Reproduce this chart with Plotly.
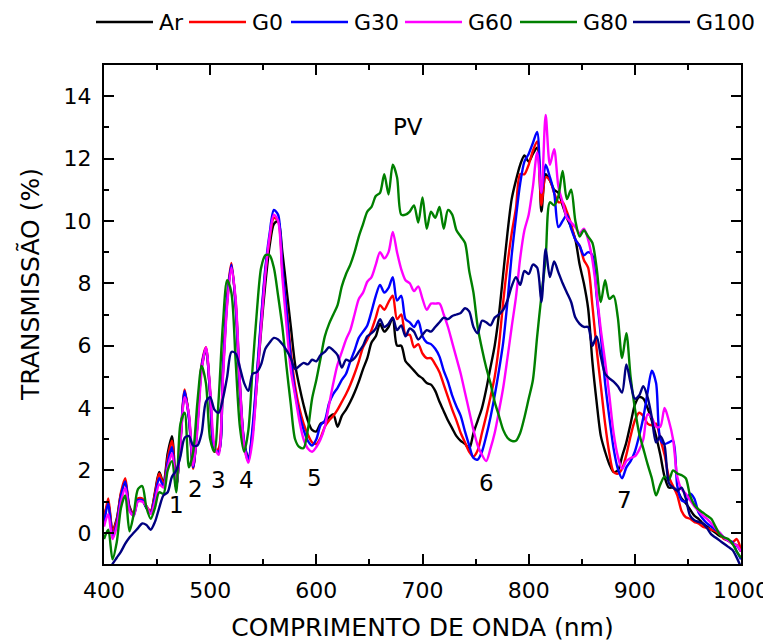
import plotly.graph_objects as go

# wavelength grid (nm) shared by all spectra
wavelength = list(range(400, 1001, 4))

ar = [
    0.5, 0.95, 0.1, 0.45, 1.25, 1.6, 0.85, 0.6, 1.05, 1.05,      # 400-436
    0.8, 0.7, 1.3, 1.95, 1.6, 2.55, 3.1, 1.5, 2.9, 4.5,          # 440-476
    3.75, 2.1, 3.5, 5.3, 5.85, 4.5, 2.7, 2.6, 5.1, 7.4,          # 480-516
    8.5, 7.4, 4.8, 2.9, 2.4, 3.2, 4.8, 6.5, 8.0, 9.2,            # 520-556
    9.9, 10.0, 9.0, 7.8, 6.6, 5.4, 4.7, 4.1, 3.6, 3.3,           # 560-596
    3.25, 3.5, 3.55, 3.7, 3.8, 3.4, 3.75, 3.95, 4.2, 4.5,        # 600-636
    4.85, 5.25, 5.6, 6.1, 6.3, 6.7, 6.45, 6.6, 6.9, 6.0,         # 640-676
    6.0, 5.5, 5.35, 5.2, 5.05, 4.95, 4.8, 4.75, 4.55, 4.2,       # 680-716
    3.9, 3.6, 3.35, 3.1, 2.95, 2.85, 2.7, 3.2, 3.6, 4.0,         # 720-756
    4.6, 5.3, 6.0, 7.0, 8.3, 9.6, 10.7, 11.3, 11.8, 12.1,        # 760-796
    11.9, 12.15, 12.35, 10.3, 11.5, 11.3, 11.0, 10.9, 10.5, 10.1,  # 800-836
    9.8, 9.4, 8.6, 8.0, 7.2, 5.5, 4.2, 3.1, 2.6, 2.2,            # 840-876
    1.95, 2.0, 2.45, 2.9, 3.5, 4.1, 4.35, 4.3, 4.0, 3.6,         # 880-916
    3.1, 2.5, 1.8, 1.45, 1.45, 1.35, 1.1, 0.95, 0.75, 0.55,      # 920-956
    0.45, 0.3, 0.2, 0.1, 0.0, -0.1, -0.15, -0.25, -0.35, -0.4,   # 960-996
    -0.6,                                                        # 1000
]

g0 = [
    0.4, 1.1, 0.05, 0.4, 1.3, 1.75, 0.8, 0.6, 1.1, 1.1,
    0.85, 0.7, 1.25, 1.9, 1.55, 2.4, 2.95, 1.45, 3.0, 4.6,
    3.7, 2.05, 3.6, 5.4, 5.95, 4.4, 2.6, 2.7, 5.3, 7.6,
    8.65, 7.3, 4.5, 2.8, 2.3, 3.3, 5.0, 6.8, 8.4, 9.4,
    10.1, 10.0, 8.4, 7.2, 5.8, 4.7, 4.0, 3.5, 3.15, 2.9,
    2.85, 3.05, 3.4, 3.6, 3.75, 3.95, 4.2, 4.45, 4.75, 5.1,
    5.5, 5.95, 6.2, 6.5, 6.9, 7.3, 7.15, 7.4, 7.6, 6.85,
    7.0, 6.35, 6.35, 5.95, 6.05, 5.75, 5.6, 5.6, 5.4, 5.15,
    4.75, 4.35, 3.95, 3.6, 3.2, 2.9, 2.6, 2.45, 2.65, 3.2,
    3.75, 4.35, 5.0, 6.0, 7.4, 8.6, 9.6, 10.4, 11.5, 11.5,
    11.8, 12.25, 12.55, 10.5, 11.4, 11.3, 10.9, 10.6, 10.6, 10.3,
    9.9, 9.4, 9.2, 8.75, 8.5, 7.3, 5.9, 4.7, 3.5, 2.55,
    1.95, 1.9, 2.05, 2.5, 3.1, 3.6, 3.85, 3.75, 3.5, 3.45,
    3.5, 3.0, 2.5, 1.8, 1.5, 1.2, 0.7, 0.5, 0.45, 0.35,
    0.3, 0.2, 0.15, 0.1, 0.05, -0.05, -0.2, -0.25, -0.3, -0.2,
    -0.55,
]

g30 = [
    0.3, 0.95, -0.1, 0.3, 1.2, 1.65, 0.75, 0.55, 1.05, 1.05,
    0.8, 0.65, 1.15, 1.75, 1.5, 2.25, 2.75, 1.45, 3.0, 4.55,
    3.65, 2.1, 3.5, 5.35, 5.9, 4.4, 2.7, 2.6, 5.2, 7.5,
    8.6, 7.3, 4.6, 2.9, 2.35, 3.4, 5.1, 6.9, 8.5, 9.6,
    10.35, 10.2, 8.5, 7.1, 5.6, 4.5, 3.8, 3.3, 2.95, 2.8,
    3.0, 3.45, 3.6, 4.15, 4.45, 4.65, 4.9, 5.1, 5.5, 5.85,
    6.25, 6.45, 6.65, 7.1, 7.6, 7.95, 7.7, 7.85, 8.2, 7.45,
    7.6, 6.85, 6.75, 6.6, 6.8, 6.3, 6.1, 6.05, 5.9, 5.65,
    5.2, 4.85, 4.4, 4.05, 3.75, 3.25, 2.8, 2.4, 2.35, 2.6,
    3.1, 3.7, 4.4, 5.2, 6.1, 7.4, 8.9, 10.1, 11.2, 11.9,
    12.15, 12.5, 12.85, 10.9, 11.8, 11.4, 10.9, 9.8, 10.0, 10.2,
    9.75, 9.4, 9.2, 8.9, 9.0, 8.9, 7.6, 6.3, 4.8, 3.7,
    2.7, 2.05, 1.75, 2.1, 2.3, 2.6, 3.1, 3.7, 4.5, 5.2,
    4.8, 3.0, 2.85, 2.9, 2.95, 1.5, 1.05, 1.0, 1.25, 1.1,
    0.65, 0.45, 0.3, 0.2, 0.1, 0.0, -0.15, -0.25, -0.3, -0.6,
    -0.85,
]

g60 = [
    0.2, 0.6, -0.2, 0.2, 1.0, 1.45, 0.7, 0.55, 1.0, 1.0,
    0.85, 0.6, 1.0, 1.55, 1.45, 2.1, 2.55, 1.55, 2.9, 4.35,
    3.8, 2.15, 3.3, 5.2, 5.95, 4.6, 2.8, 2.5, 4.9, 7.3,
    8.5, 7.5, 4.8, 2.8, 2.25, 3.0, 4.8, 6.6, 8.3, 9.5,
    10.2, 10.0, 8.2, 6.6, 5.2, 4.4, 3.6, 3.0, 2.7, 2.6,
    2.75, 3.0, 3.4, 4.1, 4.8, 5.4, 5.8, 6.2, 6.5, 7.0,
    7.5, 7.7, 8.05, 8.2, 8.6, 9.0, 8.8, 9.0, 9.65, 9.0,
    8.45, 8.1, 8.0, 7.75, 7.9, 7.5, 7.15, 7.35, 7.35, 7.35,
    7.0, 6.6, 6.1, 5.6, 5.1, 4.5, 3.9, 3.3, 2.8, 2.5,
    2.3, 2.7, 3.2, 3.9, 4.65, 5.6, 6.6, 7.55, 8.8, 9.7,
    10.2, 11.1, 12.2, 10.9, 13.4, 11.8, 12.3, 11.1, 10.6, 10.1,
    9.95, 9.8, 9.6, 9.75, 9.4, 8.75, 7.7, 6.5, 5.5, 4.4,
    3.2, 2.45, 2.05, 2.3, 2.4, 2.45, 2.65, 3.0, 3.8, 3.7,
    3.4, 3.4, 4.0, 3.6, 3.0, 1.8, 1.4, 1.25, 1.05, 0.85,
    0.7, 0.55, 0.45, 0.3, 0.15, 0.0, -0.15, -0.25, -0.35, -0.4,
    -0.6,
]

g80 = [
    -0.2, 0.1, -0.85, -0.3, 0.8, 1.2, 0.05, 0.6, 1.4, 1.5,
    0.8, 0.45, 0.8, 1.3, 1.25, 2.0, 2.3, 1.3, 3.5, 3.85,
    2.1, 2.6, 4.2, 5.35, 4.8, 3.0, 2.6, 4.3, 6.7, 8.1,
    7.7, 5.5, 3.4, 2.6, 3.3, 5.3, 7.1, 8.5, 8.9, 8.9,
    8.5, 7.6, 6.6, 5.3, 4.1, 3.0, 2.75, 2.72, 3.3, 4.3,
    4.9, 5.6, 6.3, 6.7, 7.0, 7.3, 7.9, 8.3, 8.6, 9.0,
    9.5, 9.9, 10.3, 10.45, 10.8, 10.9, 11.5, 10.85, 11.8, 11.4,
    10.2, 10.2, 10.3, 10.5, 9.95, 10.75, 9.75, 10.3, 10.1, 10.45,
    9.75, 10.35, 10.2, 9.7, 9.5, 9.3, 8.4, 7.7, 6.6, 5.9,
    5.3, 4.8, 4.2, 3.75, 3.3, 3.05, 2.95, 2.95, 3.2, 3.7,
    4.3, 4.9, 6.3, 7.6, 8.8, 10.6, 10.5, 10.8, 11.6, 10.7,
    11.0, 10.0, 9.5, 9.7, 9.5, 9.3, 8.5, 7.4, 8.1, 7.5,
    7.6, 6.9, 5.6, 6.4, 5.0, 4.0, 3.2, 2.7, 2.2, 1.75,
    1.2, 1.55, 1.8, 1.7, 2.0, 1.9, 1.85, 1.75, 1.2, 0.9,
    0.75, 0.65, 0.55, 0.45, 0.2, -0.05, -0.15, -0.2, -0.35, -0.6,
    -0.8,
]

g100 = [
    -1.4, -1.25, -1.0, -0.8, -0.6, -0.35, -0.15, 0.0, 0.15, 0.3,
    0.25, 0.1, 0.35, 0.8, 1.2, 1.3, 1.8, 2.0, 2.45, 3.05,
    3.1, 2.8, 2.8, 3.2, 4.2, 4.35, 3.95, 3.85, 4.3, 5.0,
    5.8, 5.75, 5.3, 4.8, 4.55, 5.1, 5.15, 5.4, 5.9, 6.1,
    6.25, 6.2, 6.05, 5.85, 5.6, 5.25, 5.35, 5.45, 5.4, 5.55,
    5.5, 5.7, 5.8, 5.95, 5.85, 5.7, 5.3, 5.55, 5.5, 5.6,
    5.8, 6.0, 6.3, 6.4, 6.55, 6.85, 6.6, 6.7, 6.9, 6.5,
    6.65, 6.3, 6.55, 6.45, 6.2, 6.35, 6.5, 6.45, 6.6, 6.75,
    6.9, 6.85, 6.95, 7.0, 7.05, 7.2, 7.1, 6.6, 6.4, 6.8,
    6.75, 6.65, 6.9, 7.0, 7.15, 7.45, 7.9, 8.2, 7.95, 8.4,
    8.3, 8.6, 8.5, 7.4, 9.1, 8.2, 8.7, 8.35, 8.0, 7.7,
    7.4, 6.9, 6.7, 6.6, 6.6, 6.0, 6.3, 5.65, 5.1, 4.95,
    4.85, 4.7, 4.5, 5.4, 4.8, 4.3, 4.4, 4.7, 4.35, 3.7,
    2.9, 3.1, 2.8, 1.6, 1.45, 1.35, 1.45, 1.1, 0.55, 0.4,
    0.35, 0.3, 0.15, -0.05, -0.15, -0.25, -0.35, -0.45, -0.55, -0.8,
    -1.1,
]

names = ["Ar", "G0", "G30", "G60", "G80", "G100"]
colors = ["#000000", "#ff0000", "#0000ff", "#ff00ff", "#008000", "#000080"]

# labels written on the plot
band_labels = ["1", "2", "3", "4", "5", "6", "7", "PV"]
band_nm = [468, 486, 507.5, 534, 598.5, 760, 890, 686]
band_val = [0.9, 1.4, 1.7, 1.7, 1.75, 1.6, 1.05, 13.0]

# the page body has an 8px margin, so the figure is drawn 8px in from the corner
OFF = 8
W, H = 771 - OFF, 642 - OFF
# plot area, in page pixels
L, R, T, B = 104 - OFF, 741 - OFF, 65 - OFF, 564 - OFF
legend_left_px = [p - OFF for p in (96, 189, 291, 405, 520, 633)]
legend_y_px = 22 - OFF
line_len = 57


def px_x(p):
    return (p - L) / (R - L)


def px_y(p):
    return (B - p) / (B - T)


fig = go.Figure()
for name, ys, col in zip(names, [ar, g0, g30, g60, g80, g100], colors):
    fig.add_trace(go.Scatter(x=wavelength, y=ys, name=name, mode="lines",
                             line=dict(color=col, width=2.4, shape="spline", smoothing=0.8),
                             showlegend=False))

for txt, xv, yv in zip(band_labels, band_nm, band_val):
    fig.add_annotation(x=xv, y=yv, text=txt, showarrow=False,
                       font=dict(size=23, color="black"))

# legend drawn as short lines + labels across the top
for name, col, lx in zip(names, colors, legend_left_px):
    fig.add_shape(type="line", xref="paper", yref="paper",
                  x0=px_x(lx), x1=px_x(lx + line_len),
                  y0=px_y(legend_y_px), y1=px_y(legend_y_px),
                  line=dict(color=col, width=2.5))
    fig.add_annotation(text=name, xref="paper", yref="paper",
                       x=px_x(lx + line_len + 4), y=px_y(legend_y_px),
                       xanchor="left", yanchor="middle", showarrow=False,
                       font=dict(size=22, color="black"))

# y axis title placed by hand (sits a bit above the plot centre)
fig.add_annotation(text="TRANSMISSÃO (%)", xref="paper", yref="paper",
                   x=px_x(30 - OFF), y=px_y(285 - OFF), xanchor="center", yanchor="middle",
                   textangle=-90, showarrow=False,
                   font=dict(size=25, color="black"))

axis_style = dict(showline=True, linewidth=2, linecolor="black", mirror="ticks",
                  ticks="inside", ticklen=10, tickwidth=2, tickcolor="black",
                  showgrid=False, zeroline=False, automargin=False)

fig.update_xaxes(range=[400, 1000], tick0=400, dtick=100,
                 minor=dict(dtick=50, ticks="inside", ticklen=5, tickwidth=2, tickcolor="black"),
                 title=dict(text="COMPRIMENTO DE ONDA (nm)", font=dict(size=25), standoff=16),
                 ticklabelstandoff=6, **axis_style)
fig.update_yaxes(range=[-1, 15], tick0=0, dtick=2,
                 minor=dict(dtick=1, ticks="inside", ticklen=5, tickwidth=2, tickcolor="black"),
                 ticklabelstandoff=6, **axis_style)

fig.update_layout(
    width=W, height=H,
    margin=dict(l=L, r=W - R, t=T, b=H - B),
    plot_bgcolor="white", paper_bgcolor="white",
    font=dict(family="DejaVu Sans", size=22, color="black"),
    showlegend=False,
)

fig.write_html("out.html")
